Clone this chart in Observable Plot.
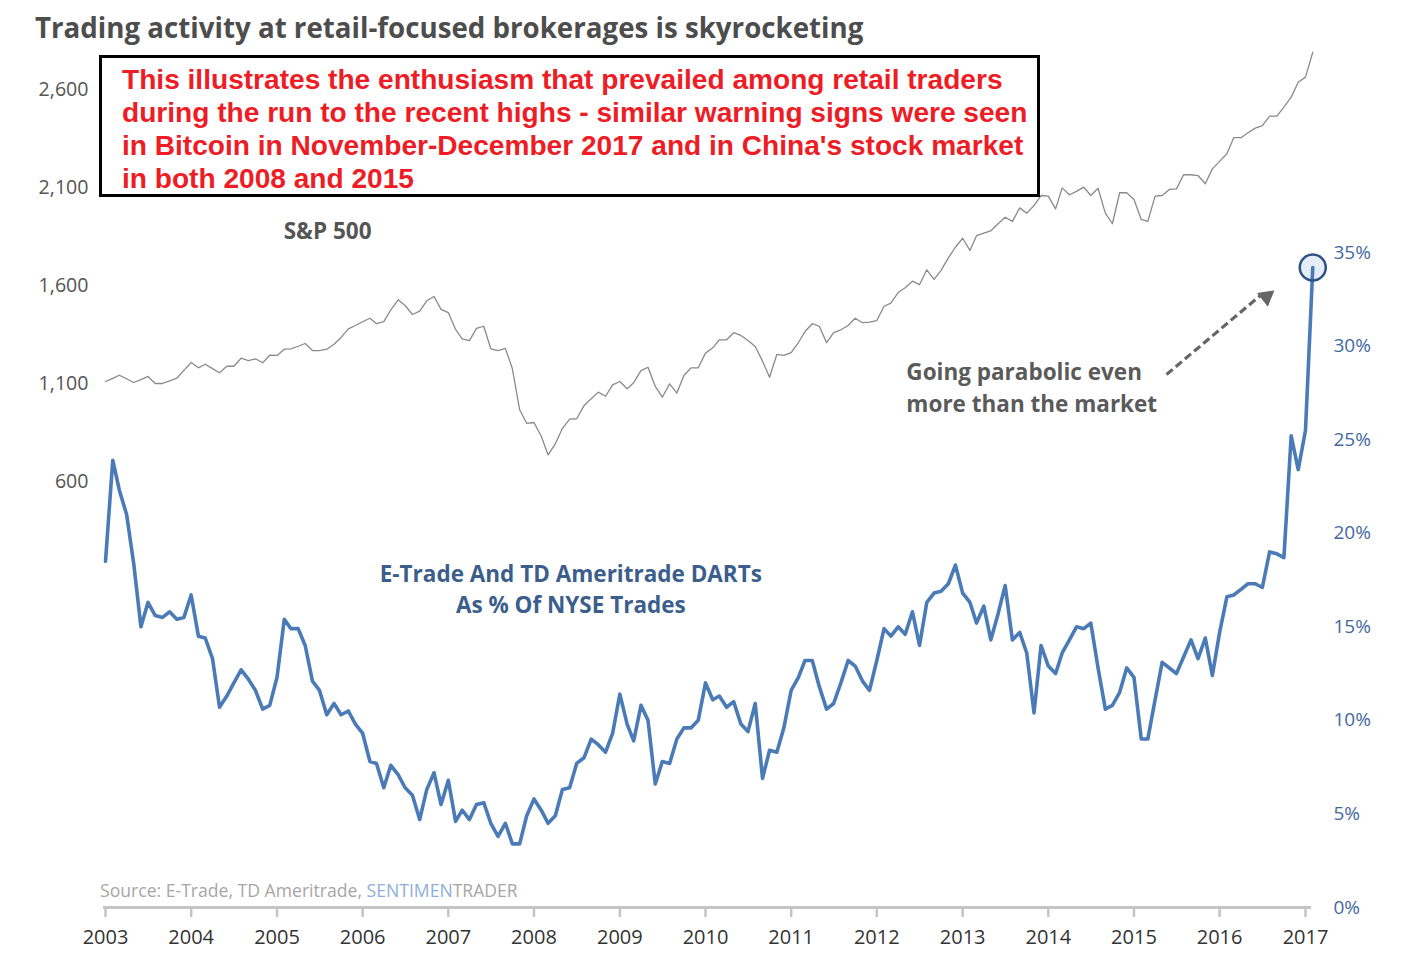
<!DOCTYPE html>
<html>
<head>
<meta charset="utf-8">
<script src="https://cdn.jsdelivr.net/npm/d3@7"></script>
<script src="https://cdn.jsdelivr.net/npm/@observablehq/plot@0.6"></script>
<style>
  body { margin: 0; background: #fff; }
  #wrap { position: relative; width: 1416px; height: 968px; overflow: hidden; font-family: "Open Sans", sans-serif; background: #fff; }
  #title { position: absolute; left: 35px; top: 7px; line-height: 40px; font-size: 27.7px; font-weight: 700; color: #4d4d4d; white-space: nowrap; }
  #chart { position: absolute; left: 0; top: 44px; }
  #box { position: absolute; left: 99px; top: 55px; width: 935px; height: 136px; border: 3px solid #000; background: #fff;
         box-sizing: content-box; padding: 0; font-family: "Liberation Sans", Arial, sans-serif; font-weight: 700; font-size: 28.1px;
         color: #ee1c25; line-height: 33px; }
  #box div { position: absolute; left: 20px; white-space: nowrap; }
  #source { position: absolute; left: 100px; top: 878px; line-height: 24px; font-size: 17.6px; color: #a6a6a6; white-space: nowrap; }
  #source span { color: #8eaedb; }
</style>
</head>
<body>
<div id="wrap">
  <div id="title"></div>
  <div id="chart"></div>
  <div id="box"></div>
  <div id="source"></div>
</div>
<script>
// ---- text ----
const titleText = "Trading activity at retail-focused brokerages is skyrocketing";
const boxLines = [
  "This illustrates the enthusiasm that prevailed among retail traders",
  "during the run to the recent highs - similar warning signs were seen",
  "in Bitcoin in November-December 2017 and in China's stock market",
  "in both 2008 and 2015"
];
const sourceParts = ["Source: E-Trade, TD Ameritrade, ", "SENTIMEN", "TRADER"];

// ---- data (monthly, starting Jan 2003) ----
const startYear = 2003;
// E-Trade and TD Ameritrade DARTs as % of NYSE trades
const dartsPct = [
  18.5, 23.9, 22.3, 21.0, 18.4, 15.0, 16.3, 15.6, 15.5, 15.8, 15.4, 15.5,
  16.7, 14.5, 14.4, 13.3, 10.7, 11.3, 12.0, 12.7, 12.2, 11.6, 10.6, 10.8,
  12.3, 15.4, 14.9, 14.9, 14.0, 12.1, 11.6, 10.3, 10.9, 10.3, 10.5, 9.8,
  9.3, 7.8, 7.7, 6.4, 7.6, 7.1, 6.4, 6.0, 4.7, 6.3, 7.2, 5.5,
  6.8, 4.6, 5.2, 4.7, 5.5, 5.6, 4.5, 3.8, 4.5, 3.4, 3.4, 4.9,
  5.8, 5.2, 4.5, 4.9, 6.3, 6.4, 7.7, 8.0, 9.0, 8.7, 8.3, 9.3,
  11.4, 9.8, 8.9, 10.8, 10.0, 6.6, 7.8, 7.7, 9.0, 9.6, 9.6, 10.0,
  12.0, 11.1, 11.3, 10.7, 11.0, 9.8, 9.4, 10.9, 6.9, 8.4, 8.3, 9.6,
  11.6, 12.3, 13.2, 13.2, 11.8, 10.6, 10.9, 12.0, 13.2, 12.9, 12.1, 11.6,
  13.2, 14.9, 14.5, 15.0, 14.6, 15.8, 14.0, 16.3, 16.8, 16.9, 17.3, 18.3,
  16.8, 16.3, 15.2, 16.1, 14.3, 15.7, 17.2, 14.3, 14.7, 13.6, 10.4, 14.0,
  12.9, 12.5, 13.6, 14.3, 15.0, 14.9, 15.2, 12.8, 10.6, 10.8, 11.5, 12.8,
  12.3, 9.0, 9.0, 11.1, 13.1, 12.8, 12.5, 13.4, 14.3, 13.3, 14.4, 12.4,
  14.7, 16.6, 16.7, 17.0, 17.3, 17.3, 17.1, 19.0, 18.9, 18.7, 25.2, 23.4,
  25.5, 34.2
];
// S&P 500 (left axis)
const sp500 = [
  1110, 1126, 1142, 1124, 1105, 1120, 1136, 1100, 1100, 1113, 1127, 1167,
  1207, 1180, 1198, 1176, 1155, 1188, 1188, 1229, 1217, 1226, 1206, 1244,
  1243, 1275, 1277, 1290, 1304, 1268, 1268, 1275, 1300, 1335, 1379, 1396,
  1415, 1433, 1405, 1416, 1476, 1527, 1498, 1452, 1469, 1522, 1544, 1478,
  1462, 1376, 1328, 1319, 1381, 1392, 1277, 1268, 1279, 1175, 966, 897,
  901, 831, 736, 792, 870, 918, 920, 986, 1022, 1056, 1035, 1093,
  1110, 1073, 1104, 1166, 1183, 1085, 1030, 1098, 1051, 1141, 1180, 1180,
  1255, 1282, 1323, 1323, 1359, 1345, 1319, 1289, 1214, 1132, 1248, 1243,
  1257, 1309, 1365, 1405, 1392, 1308, 1359, 1374, 1396, 1433, 1410, 1413,
  1421, 1494, 1510, 1564, 1588, 1622, 1604, 1680, 1631, 1677, 1741, 1795,
  1841, 1779, 1854, 1867, 1879, 1915, 1948, 1927, 1996, 1969, 2008, 2059,
  2056, 1991, 2098, 2063, 2080, 2102, 2059, 2096, 1969, 1915, 2073, 2073,
  2039, 1937, 1927, 2056, 2059, 2090, 2093, 2166, 2165, 2161, 2119, 2195,
  2233, 2272, 2354, 2354, 2379, 2403, 2416, 2464, 2464, 2510, 2561, 2637,
  2663, 2790
];
const yearTicks = [2003, 2004, 2005, 2006, 2007, 2008, 2009, 2010, 2011, 2012, 2013, 2014, 2015, 2016, 2017];
const spTicks = [600, 1100, 1600, 2100, 2600];
const pctTicks = [0, 5, 10, 15, 20, 25, 30, 35];

// ---- build ----
document.getElementById("title").textContent = titleText;
const box = document.getElementById("box");
boxLines.forEach((t, i) => {
  const d = document.createElement("div");
  d.textContent = t;
  d.style.top = (4.5 + i * 33) + "px";
  box.appendChild(d);
});
const src = document.getElementById("source");
src.append(sourceParts[0]);
const sp = document.createElement("span"); sp.textContent = sourceParts[1]; src.append(sp);
src.append(sourceParts[2]);

const start = new Date(Date.UTC(startYear, 0, 1));
const rows = dartsPct.map((v, i) => ({date: d3.utcMonth.offset(start, i), darts: v, sp: sp500[i]}));
const last = rows[rows.length - 1];

// left (S&P) axis is aligned onto the right (%) scale: 600 <-> 22.76%, 2600 <-> 43.71%
const spA = 16.48, spB = 0.0104735;
const spToPct = v => spA + spB * v;
const pctToSp = p => (p - spA) / spB;

const yearDate = y => new Date(Date.UTC(y, 0, 1));
const frac = f => new Date(Date.UTC(Math.floor(f), 0, 1) + (f % 1) * 365.25 * 864e5);

const spLabel = [{x: frac(2005.59), y: 36.08, text: "S&P 500"}];
const dartsLabel = [{x: frac(2008.43), y: 17.08, text: "E-Trade And TD Ameritrade DARTs\nAs % Of NYSE Trades"}];
const parabolicLabel = [{x: frac(2012.345), y: 27.9, text: "Going parabolic even\nmore than the market"}];
const arrowLine = [{x1: frac(2015.38), y1: 28.48, x2: frac(2016.50), y2: 32.80}];
const arrowHead = [{x: frac(2016.546), y: 32.64}];

const chart = Plot.plot({
  width: 1416,
  height: 924,
  marginLeft: 103,
  marginRight: 105,
  marginTop: 0,
  marginBottom: 61,
  style: {fontFamily: "Open Sans", background: "transparent", overflow: "visible"},
  x: {type: "utc", domain: [yearDate(2003), yearDate(2017)], range: [105, 1305]},
  y: {domain: [0, 35], range: [863, 208]},
  marks: [
    Plot.ruleY([0], {stroke: "#c4c4c4", strokeWidth: 3}),
    Plot.axisX(yearTicks.map(yearDate), {anchor: "bottom", tickSize: 10, tickFormat: () => "", stroke: "#c4c4c4", strokeWidth: 2.5}),
    Plot.axisX(yearTicks.map(yearDate), {anchor: "bottom", tickSize: 0, tickPadding: 22, tickFormat: d3.utcFormat("%Y"), fontSize: 20, color: "#333333"}),
    Plot.axisY(spTicks.map(spToPct), {anchor: "left", tickSize: 0, tickPadding: 15, fontSize: 19.6, color: "#555555",
      tickFormat: p => d3.format(",")(Math.round(pctToSp(p) / 100) * 100)}),
    Plot.axisY(pctTicks, {anchor: "right", tickSize: 0, tickPadding: 22, fontSize: 19, color: "#4469a0", tickFormat: d => d + "%"}),
    Plot.lineY(rows, {x: "date", y: d => spToPct(d.sp), stroke: "#8a8a8a", strokeWidth: 1.3}),
    Plot.dot([last], {x: "date", y: "darts", r: 13, fill: "#e6edf7", stroke: "none"}),
    Plot.lineY(rows, {x: "date", y: "darts", stroke: "#4a7bb7", strokeWidth: 3.6, strokeLinejoin: "round"}),
    Plot.dot([last], {x: "date", y: "darts", r: 13, fill: "none", stroke: "#2d5287", strokeWidth: 2.5}),
    Plot.text(spLabel, {x: "x", y: "y", text: "text", fill: "#555555", textAnchor: "middle", fontSize: 22.5, fontWeight: 700}),
    Plot.text(dartsLabel, {x: "x", y: "y", text: "text", fill: "#3b5e8c", textAnchor: "middle", fontSize: 22.5, fontWeight: 700, lineHeight: 1.38}),
    Plot.text(parabolicLabel, {x: "x", y: "y", text: "text", fill: "#5a5a5a", textAnchor: "start", fontSize: 22.5, fontWeight: 700, lineHeight: 1.42}),
    Plot.link(arrowLine, {x1: "x1", y1: "y1", x2: "x2", y2: "y2", stroke: "#666666", strokeWidth: 3.2, strokeDasharray: "8,4"}),
    Plot.dot(arrowHead, {x: "x", y: "y", symbol: "triangle", r: 6.5, fill: "#666666", rotate: 52})
  ]
});
document.getElementById("chart").appendChild(chart);
</script>
</body>
</html>
